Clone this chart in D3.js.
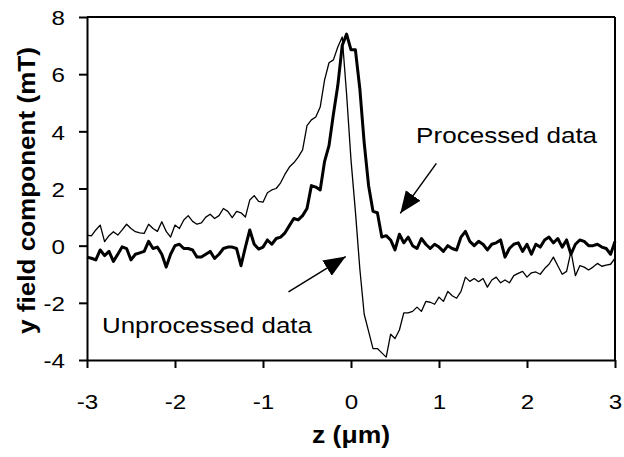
<!DOCTYPE html>
<html>
<head>
<meta charset="utf-8">
<script src="https://cdn.jsdelivr.net/npm/d3@7"></script>
<style>
  body { margin: 0; background: #fff; }
  svg { display: block; font-family: "Liberation Sans", Arial, sans-serif; }
</style>
</head>
<body>
<svg id="chart" width="624" height="457"></svg>
<script>
// z positions (um), sampled every 0.05 across the plot
const zValues = d3.range(121).map(i => -3 + i * 0.05);

// unprocessed data (thin line), mT
const unprocessed = [
  0.37, 0.34, 0.55, 0.72, 0.14, 0.35, 0.49, 0.37, 0.55, 0.75,
  0.60, 0.49, 0.45, 0.43, 0.75, 0.60, 0.50, 0.84, 0.50, 0.30,
  0.72, 0.60, 0.90, 1.05, 0.85, 0.75, 0.80, 1.00, 1.10, 0.95,
  1.05, 1.30, 1.20, 0.98, 1.20, 1.15, 1.00, 1.60, 1.75, 1.55,
  1.52, 1.85, 1.95, 2.00, 2.20, 2.50, 2.75, 2.90, 3.10, 3.35,
  4.20, 4.40, 4.50, 4.85, 5.80, 6.40, 6.50, 6.95, 7.30, 5.30,
  3.00, 1.20, -0.80, -2.40, -3.00, -3.60, -3.60, -3.75, -3.90, -3.10,
  -3.25, -2.95, -2.35, -2.35, -2.30, -2.15, -2.30, -1.95, -1.98, -2.05,
  -1.80, -1.95, -1.60, -1.75, -1.84, -1.60, -1.10, -1.25, -1.15, -1.26,
  -1.15, -1.45, -1.20, -1.10, -1.30, -1.20, -1.30, -1.05, -0.97, -0.90,
  -1.10, -0.95, -0.92, -1.00, -0.80, -0.65, -0.40, -0.70, -1.00, -0.90,
  -0.20, -1.05, -0.70, -0.75, -0.85, -0.75, -0.62, -0.72, -0.68, -0.65,
  -0.44
];

// processed data (thick line), mT
const processed = [
  -0.40, -0.44, -0.50, -0.15, -0.35, -0.20, -0.55, -0.30, -0.04, -0.10,
  -0.50, -0.30, -0.25, -0.20, 0.15, -0.10, -0.05, -0.30, -0.75, -0.30,
  0.00, 0.05, -0.10, -0.10, -0.15, -0.40, -0.40, -0.30, -0.20, -0.45,
  -0.30, -0.10, -0.05, -0.05, -0.10, -0.70, -0.05, 0.55, 0.05, -0.12,
  -0.05, 0.20, 0.05, 0.25, 0.30, 0.45, 0.70, 0.95, 0.90, 1.05,
  1.30, 2.10, 2.05, 1.95, 2.95, 3.50, 4.60, 5.60, 7.00, 7.40,
  6.85, 6.85, 5.50, 3.60, 2.10, 1.20, 1.15, 0.30, 0.35, 0.20,
  -0.15, 0.40, 0.10, 0.30, 0.00, -0.10, 0.25, 0.05, -0.10, 0.05,
  -0.05, -0.20, 0.00, -0.10, -0.15, 0.30, 0.50, 0.15, 0.00, 0.15,
  0.05, -0.15, 0.05, 0.10, 0.20, -0.40, -0.10, 0.05, 0.10, -0.20,
  0.05, -0.30, 0.05, -0.05, 0.20, 0.30, 0.10, 0.25, -0.05, 0.20,
  -0.30, 0.05, 0.20, 0.15, 0.00, 0.00, 0.05, -0.05, -0.10, -0.30,
  0.15
];

const xTicks = [-3, -2, -1, 0, 1, 2, 3];
const yTicks = [-4, -2, 0, 2, 4, 6, 8];

// annotation labels and arrows, in data units
const labels = [
  { text: "Processed data", z: 0.74, v: 3.59, len: 181 },
  { text: "Unprocessed data", z: -2.83, v: -3.06, len: 210 }
];
const arrows = [
  { z1: 0.97, v1: 2.88, z2: 0.56, v2: 1.13 },
  { z1: -0.71, v1: -1.62, z2: -0.06, v2: -0.38 }
];

const width = 624, height = 457;
const margin = { top: 17, right: 9, bottom: 97, left: 87 };
const stretch = 1.15; // glyphs in the picture are drawn wide

const svg = d3.select("#chart");
svg.append("rect").attr("width", width).attr("height", height).attr("fill", "#fff");

const x = d3.scaleLinear().domain([-3, 3]).range([margin.left, width - margin.right]);
const y = d3.scaleLinear().domain([-4, 8]).range([height - margin.bottom, margin.top]);

// arrowhead
svg.append("defs").append("marker")
  .attr("id", "head")
  .attr("viewBox", "0 -10 22 20")
  .attr("refX", 22).attr("refY", 0)
  .attr("markerWidth", 22).attr("markerHeight", 20)
  .attr("markerUnits", "userSpaceOnUse")
  .attr("orient", "auto")
  .append("path")
  .attr("d", "M0,-9L22,0L0,9Z")
  .attr("fill", "#000");

// series
const line = d3.line()
  .x((d, i) => x(zValues[i]))
  .y(d => y(d));

svg.append("path")
  .datum(unprocessed)
  .attr("d", line)
  .attr("fill", "none")
  .attr("stroke", "#000")
  .attr("stroke-width", 1.3)
  .attr("stroke-linejoin", "round");

svg.append("path")
  .datum(processed)
  .attr("d", line)
  .attr("fill", "none")
  .attr("stroke", "#000")
  .attr("stroke-width", 3)
  .attr("stroke-linejoin", "round");

// frame
svg.append("line")
  .attr("x1", x(-3)).attr("x2", x(3))
  .attr("y1", y(8)).attr("y2", y(8))
  .attr("stroke", "#000").attr("stroke-width", 2);
svg.append("line")
  .attr("x1", x(3)).attr("x2", x(3))
  .attr("y1", y(8)).attr("y2", y(-4))
  .attr("stroke", "#000").attr("stroke-width", 2);

// axes
const fmt = d => String(d);

const xAxis = svg.append("g")
  .attr("transform", "translate(0," + y(-4) + ")")
  .call(d3.axisBottom(x).tickValues(xTicks).tickFormat(fmt)
    .tickSize(8).tickPadding(26).tickSizeOuter(0));

const yAxis = svg.append("g")
  .attr("transform", "translate(" + x(-3) + ",0)")
  .call(d3.axisLeft(y).tickValues(yTicks).tickFormat(fmt)
    .tickSize(8).tickSizeOuter(0));

[xAxis, yAxis].forEach(g => {
  g.select(".domain").attr("stroke", "#000").attr("stroke-width", 2);
  g.selectAll(".tick line").attr("stroke", "#000").attr("stroke-width", 2);
  g.selectAll(".tick text")
    .attr("fill", "#000")
    .style("font-size", "21px")
    .style("font-family", "'Liberation Sans', Arial, sans-serif")
    .attr("transform", "scale(" + stretch + ",1)");
});
yAxis.selectAll(".tick text").attr("x", -22 / stretch).attr("dy", "0.37em");

// axis titles
svg.append("text")
  .attr("x", x(0))
  .attr("y", 443)
  .attr("text-anchor", "middle")
  .attr("textLength", 78)
  .attr("lengthAdjust", "spacingAndGlyphs")
  .style("font-size", "23px")
  .style("font-weight", "bold")
  .text("z (\u03bcm)");

svg.append("text")
  .attr("transform", "translate(35," + (y(2) + 2) + ") rotate(-90)")
  .attr("text-anchor", "middle")
  .attr("textLength", 287)
  .attr("lengthAdjust", "spacingAndGlyphs")
  .style("font-size", "23px")
  .style("font-weight", "bold")
  .text("y field component (mT)");

// annotations
svg.selectAll(".label")
  .data(labels)
  .enter()
  .append("text")
  .attr("class", "label")
  .attr("x", d => x(d.z))
  .attr("y", d => y(d.v))
  .attr("textLength", d => d.len)
  .attr("lengthAdjust", "spacingAndGlyphs")
  .style("font-size", "22px")
  .text(d => d.text);

svg.selectAll(".arrow")
  .data(arrows)
  .enter()
  .append("line")
  .attr("class", "arrow")
  .attr("x1", d => x(d.z1)).attr("y1", d => y(d.v1))
  .attr("x2", d => x(d.z2)).attr("y2", d => y(d.v2))
  .attr("stroke", "#000")
  .attr("stroke-width", 1.5)
  .attr("marker-end", "url(#head)");
</script>
</body>
</html>
